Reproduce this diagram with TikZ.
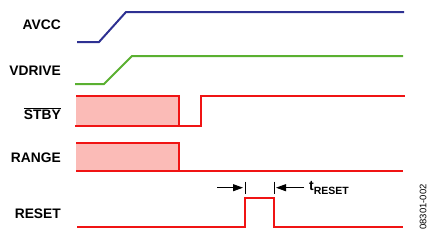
\documentclass[tikz,border=0pt]{standalone}
\usepackage{fontspec}
\setmainfont{Liberation Sans}
\usetikzlibrary{arrows.meta}
\definecolor{navy}{RGB}{46,49,146}
\definecolor{sgreen}{RGB}{90,176,49}
\definecolor{sred}{RGB}{240,20,20}
\definecolor{spink}{RGB}{251,187,183}
\begin{document}
\begin{tikzpicture}[x=1pt,y=-1pt,
  sig/.style={line width=2pt, line join=miter},
  lbl/.style={anchor=base east, inner sep=0pt, font=\bfseries\fontsize{13.8}{15}\selectfont},
  tick/.style={line width=0.8pt, black},
  dimarrow/.style={line width=0.9pt, black, -{Triangle[length=10pt,width=7pt]}}]
\useasboundingbox (0,0) rectangle (434,236);

% labels
\node[lbl] (lavcc) at (61,29.3) {AVCC};
\node[lbl] (lvdrive) at (61,75) {VDRIVE};
\node[lbl] (lstby) at (61,119) {$\overline{\mbox{STBY}}$};
\node[lbl] (lrange) at (61,162.3) {RANGE};
\node[lbl] (lreset) at (61,218.3) {RESET};

% AVCC
\draw[sig, navy] (77,42) -- (99,42) -- (126,12) -- (404,12);
% VDRIVE
\draw[sig, sgreen] (75,84) -- (104,84) -- (132,56) -- (403,56);
% STBY
\fill[spink] (76,96) rectangle (179,126);
\draw[sig, sred] (76,96) -- (179,96) -- (179,126);
\draw[sig, sred] (75,126) -- (201,126) -- (201,96) -- (405,96);
% RANGE
\fill[spink] (76,143.3) rectangle (179,171.3);
\draw[sig, sred] (76,143.3) -- (179,143.3) -- (179,171.3);
\draw[sig, sred] (76,171.3) -- (403,171.3);
% RESET
\draw[sig, sred] (77,227) -- (245,227) -- (245,198.3) -- (273.5,198.3) -- (273.5,227) -- (403,227);

% t_RESET dimension
\coordinate (t1a) at (245,181.5);
\coordinate (t1b) at (245,194);
\coordinate (t2a) at (274,181.5);
\coordinate (t2b) at (274,194);
\coordinate (a1s) at (217,187.7);
\coordinate (a1e) at (243,187.7);
\coordinate (a2s) at (304,187.7);
\coordinate (a2e) at (276,187.7);
\draw[tick] (t1a) -- (t1b);
\draw[tick] (t2a) -- (t2b);
\draw[dimarrow] (a1s) -- (a1e);
\draw[dimarrow] (a2s) -- (a2e);
\node[anchor=base west, inner sep=0pt] (treset) at (309,190.7)
  {{\bfseries\fontsize{14}{16}\selectfont t}\raisebox{-3.6pt}{\bfseries\fontsize{10.5}{12}\selectfont RESET}};

% figure code
\node[rotate=90, inner sep=0pt, font=\fontsize{9.5}{11}\selectfont] (code) at (423,207) {08301-002};
\end{tikzpicture}
\end{document}
